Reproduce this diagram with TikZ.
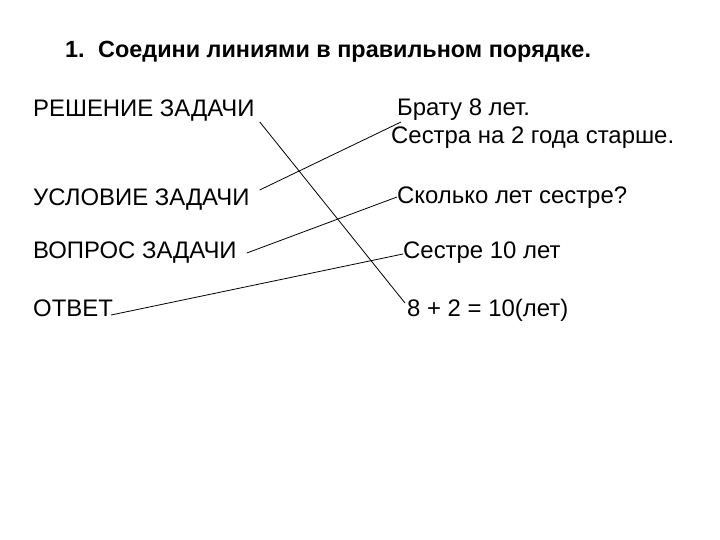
\documentclass[tikz,border=0pt]{standalone}
\usepackage{fontspec}
\setmainfont{Liberation Sans}
\usetikzlibrary{positioning}

\tikzset{
    item/.style={anchor=base west, inner sep=0pt, font=\fontsize{24}{28}\selectfont},
    head/.style={anchor=base west, inner sep=0pt, font=\fontsize{23.5}{28}\selectfont\bfseries},
    link/.style={line width=0.8bp, black}
}

\begin{document}
\begin{tikzpicture}[x=1bp, y=-1bp]
    \useasboundingbox[fill=white] (0,0) rectangle (720,540);

    \node[head] (title) at (65,58) {\makebox[33bp][l]{1.}Соедини линиями в правильном порядке.};

    % left column
    \node[item] (reshenie) at (33,117) {РЕШЕНИЕ ЗАДАЧИ};
    \node[item] (uslovie) at (33,206) {УСЛОВИЕ ЗАДАЧИ};
    \node[item] (vopros) at (33,259) {ВОПРОС ЗАДАЧИ};
    \node[item] (otvet) at (33,316) {ОТВЕТ};

    % right column
    \node[item] (brat) at (397,116) {Брату 8 лет.};
    \node[item] (sestra) at (391,144) {Сестра на 2 года старше.};
    \node[item] (skolko) at (397,204) {Сколько лет сестре?};
    \node[item] (sestre) at (403,259) {Сестре 10 лет};
    \node[item] (calc) at (407,316) {8 + 2 = 10(лет)};

    \draw[link] ([xshift=5bp, yshift=-5bp]reshenie.base east) -- ([xshift=-2bp, yshift=13bp]calc.base west);
    \draw[link] ([xshift=10bp, yshift=16bp]uslovie.base east) -- ([xshift=4bp, yshift=-6bp]brat.base west);
    \draw[link] ([xshift=10bp, yshift=6bp]vopros.base east) -- ([yshift=7bp]skolko.base west);
    \draw[link] ([xshift=-2bp, yshift=1bp]otvet.base east) -- ([yshift=5bp]sestre.base west);
\end{tikzpicture}
\end{document}
